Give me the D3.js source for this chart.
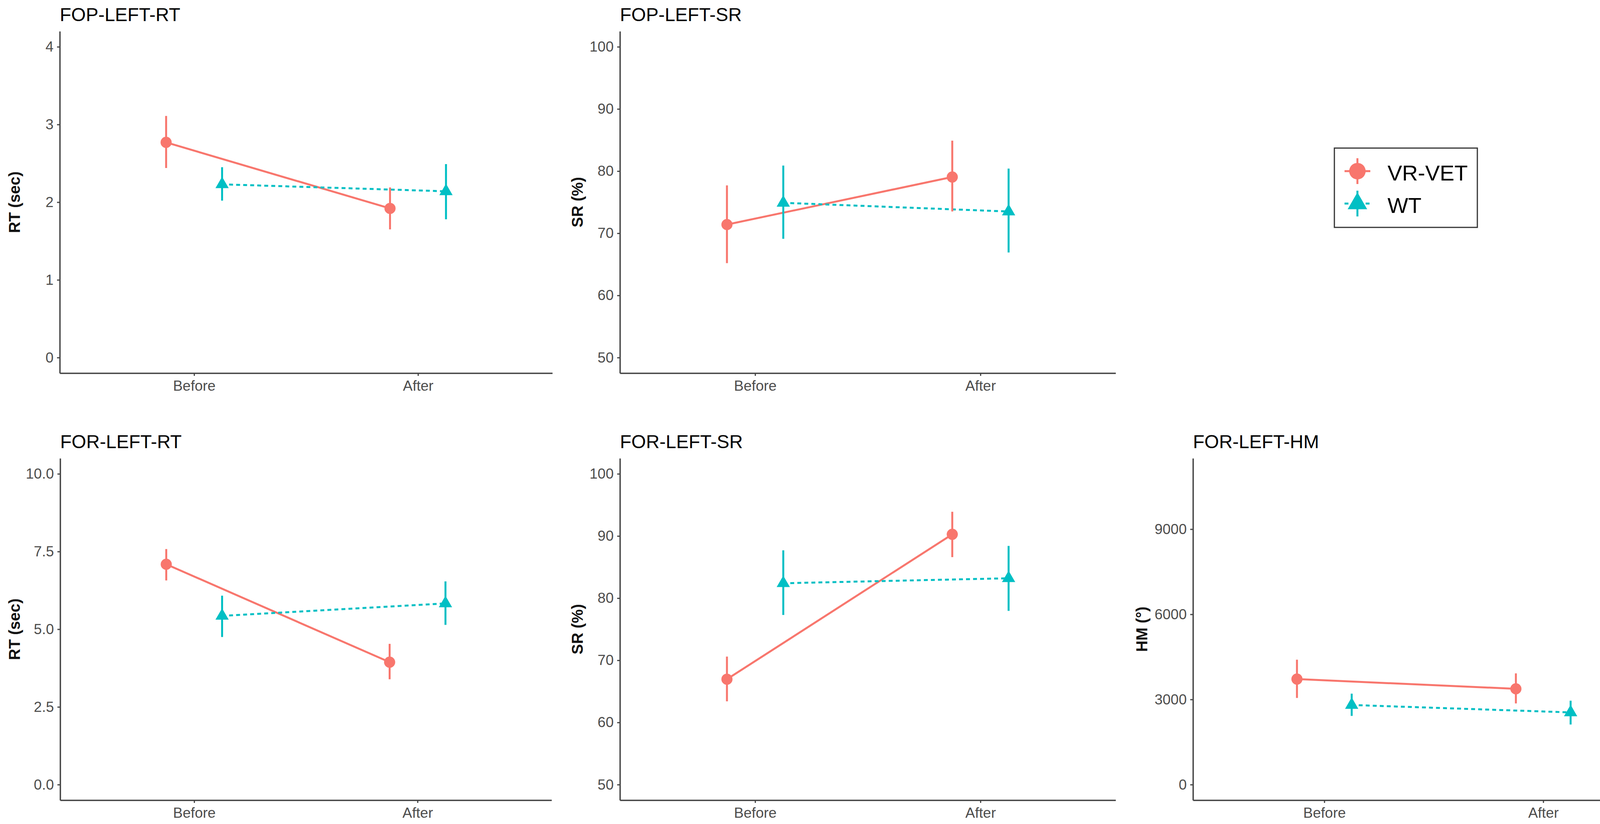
<!DOCTYPE html>
<html>
<head>
<meta charset="utf-8">
<script src="https://cdn.jsdelivr.net/npm/d3@7"></script>
<style>
  body { margin: 0; background: #fff; }
  svg { display: block; }
</style>
</head>
<body>
<div id="chart"></div>
<script>
// categories
const groups = ["VR-VET", "WT"];
const phases = ["Before", "After"];

// one entry per panel
const panelTitles = ["FOP-LEFT-RT", "FOP-LEFT-SR", "FOR-LEFT-RT", "FOR-LEFT-SR", "FOR-LEFT-HM"];
const yTitles = ["RT (sec)", "SR (%)", "RT (sec)", "SR (%)", "HM (°)"];
const yLimits = [[0, 4], [50, 100], [0, 10], [50, 100], [0, 10950]];
const yTicks = [
  [0, 1, 2, 3, 4],
  [50, 60, 70, 80, 90, 100],
  [0, 2.5, 5, 7.5, 10],
  [50, 60, 70, 80, 90, 100],
  [0, 3000, 6000, 9000]
];
const yTickLabels = [
  ["0", "1", "2", "3", "4"],
  ["50", "60", "70", "80", "90", "100"],
  ["0.0", "2.5", "5.0", "7.5", "10.0"],
  ["50", "60", "70", "80", "90", "100"],
  ["0", "3000", "6000", "9000"]
];

// series values [Before, After]
const vrvetMean = [[2.77, 1.92], [71.4, 79.05], [7.09, 3.94], [66.96, 90.27], [3719, 3376]];
const vrvetLow  = [[2.44, 1.65], [65.2, 73.5],  [6.57, 3.39], [63.4, 86.6],   [3054, 2861]];
const vrvetHigh = [[3.11, 2.19], [77.7, 84.9],  [7.58, 4.53], [70.6, 93.9],   [4402, 3920]];

const wtMean = [[2.23, 2.14], [74.9, 73.5], [5.43, 5.83], [82.4, 83.2],  [2806, 2545]];
const wtLow  = [[2.02, 1.78], [69.1, 66.9], [4.75, 5.14], [77.3, 77.96], [2421, 2118]];
const wtHigh = [[2.45, 2.49], [80.9, 80.4], [6.08, 6.54], [87.7, 88.4],  [3205, 2957]];

const seriesMean = [vrvetMean, wtMean];
const seriesLow = [vrvetLow, wtLow];
const seriesHigh = [vrvetHigh, wtHigh];

const colors = ["#F8766D", "#00BFC4"];
const dashes = [null, "10,8"];
const dodge = [-0.125, 0.125];

const FONT = "'Liberation Sans', Arial, Helvetica, sans-serif";
const W = 4317, H = 2109;

// panel frames on the page
const panelBoxes = [
  { left: 153, right: 1414, top: 80, bottom: 955, titleX: 37 },
  { left: 1587, right: 2856, top: 80, bottom: 955, titleX: 1478 },
  { left: 154, right: 1412, top: 1173, bottom: 2048, titleX: 37 },
  { left: 1587, right: 2856, top: 1173, bottom: 2048, titleX: 1478 },
  { left: 3054, right: 4287, top: 1173, bottom: 2048, titleX: 2923 }
];

const svg = d3.select("#chart")
  .append("svg")
  .attr("width", W)
  .attr("height", H)
  .style("font-family", FONT);

svg.append("rect").attr("width", W).attr("height", H).attr("fill", "#fff");

const drawPanel = (p) => {
  const box = panelBoxes[p];
  const [lo, hi] = yLimits[p];
  const pad = (hi - lo) * 0.05;

  const y = d3.scaleLinear()
    .domain([lo - pad, hi + pad])
    .range([box.bottom, box.top]);

  const x = d3.scalePoint()
    .domain(phases)
    .range([box.left, box.right])
    .padding(0.6);

  const g = svg.append("g");

  // y axis
  const yAxis = g.append("g")
    .attr("transform", `translate(${box.left},0)`)
    .call(d3.axisLeft(y)
      .tickValues(yTicks[p])
      .tickFormat((d, i) => yTickLabels[p][i])
      .tickSize(7)
      .tickSizeOuter(0)
      .tickPadding(9));

  // x axis
  const xAxis = g.append("g")
    .attr("transform", `translate(0,${box.bottom})`)
    .call(d3.axisBottom(x)
      .tickSize(7)
      .tickSizeOuter(0)
      .tickPadding(12));

  [yAxis, xAxis].forEach(ax => {
    ax.attr("font-size", 37).attr("font-family", FONT);
    ax.select(".domain").attr("stroke", "#444").attr("stroke-width", 3.5);
    ax.selectAll(".tick line").attr("stroke", "#444").attr("stroke-width", 3);
    ax.selectAll(".tick text").attr("fill", "#4D4D4D");
  });

  // titles
  g.append("text")
    .attr("x", box.left)
    .attr("y", box.top - 26)
    .attr("font-size", 48)
    .attr("fill", "#000")
    .text(panelTitles[p]);

  g.append("text")
    .attr("transform", `translate(${box.titleX},${(box.top + box.bottom) / 2}) rotate(-90)`)
    .attr("text-anchor", "middle")
    .attr("dy", "0.35em")
    .attr("font-size", 40)
    .attr("font-weight", "bold")
    .attr("fill", "#111")
    .text(yTitles[p]);

  const line = d3.line();

  // connecting lines
  groups.forEach((grp, s) => {
    const pts = phases.map((ph, i) => [x(ph) + dodge[s] * x.step(), y(seriesMean[s][p][i])]);
    g.append("path")
      .attr("d", line(pts))
      .attr("fill", "none")
      .attr("stroke", colors[s])
      .attr("stroke-width", 5)
      .attr("stroke-dasharray", dashes[s]);
  });

  // point ranges
  groups.forEach((grp, s) => {
    phases.forEach((ph, i) => {
      const cx = x(ph) + dodge[s] * x.step();
      g.append("line")
        .attr("x1", cx).attr("x2", cx)
        .attr("y1", y(seriesLow[s][p][i]))
        .attr("y2", y(seriesHigh[s][p][i]))
        .attr("stroke", colors[s])
        .attr("stroke-width", 5);

      g.append("path")
        .attr("transform", `translate(${cx},${y(seriesMean[s][p][i])})`)
        .attr("d", d3.symbol(s === 0 ? d3.symbolCircle : d3.symbolTriangle, s === 0 ? 640 : 500)())
        .attr("fill", colors[s]);
    });
  });
};

panelTitles.forEach((t, p) => drawPanel(p));

// legend
const legend = svg.append("g");
legend.append("rect")
  .attr("x", 3416).attr("y", 379)
  .attr("width", 366).attr("height", 203)
  .attr("fill", "#fff")
  .attr("stroke", "#333")
  .attr("stroke-width", 3);

groups.forEach((grp, s) => {
  const ky = s === 0 ? 438 : 521;
  const kx = 3475;
  legend.append("line")
    .attr("x1", kx - 33).attr("x2", kx + 33)
    .attr("y1", ky).attr("y2", ky)
    .attr("stroke", colors[s])
    .attr("stroke-width", 5)
    .attr("stroke-dasharray", dashes[s]);
  legend.append("line")
    .attr("x1", kx).attr("x2", kx)
    .attr("y1", ky - 33).attr("y2", ky + 33)
    .attr("stroke", colors[s])
    .attr("stroke-width", 5);
  legend.append("path")
    .attr("transform", `translate(${kx},${ky})`)
    .attr("d", d3.symbol(s === 0 ? d3.symbolCircle : d3.symbolTriangle, s === 0 ? 1400 : 1080)())
    .attr("fill", colors[s]);
  legend.append("text")
    .attr("x", 3552)
    .attr("y", s === 0 ? 462 : 545)
    .attr("font-size", 56)
    .attr("fill", "#000")
    .text(grp);
});
</script>
</body>
</html>
